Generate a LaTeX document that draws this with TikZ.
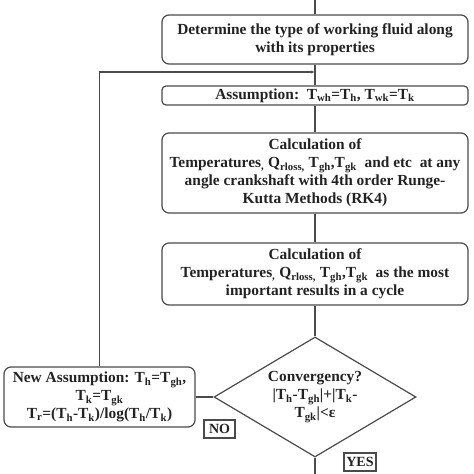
\documentclass[tikz,border=0pt]{standalone}
\usepackage{fontspec}
\setmainfont{Liberation Serif}
\usepackage{tikz}
\usetikzlibrary{positioning}
\usetikzlibrary{arrows.meta}
\usetikzlibrary{shapes.geometric}
\definecolor{linegray}{HTML}{4A4A4A}
\definecolor{textgray}{HTML}{222222}

\begin{document}
\begin{tikzpicture}[x=1pt,y=-1pt,
		every node/.style={font=\bfseries\fontsize{15.4}{18}\selectfont,text=textgray,align=center},
		procbox/.style={draw=linegray,line width=1.2pt,rounded corners=7pt,minimum width=306pt,inner sep=0pt},
		decision/.style={draw=linegray,line width=1.2pt,diamond,aspect=1.68,minimum width=202pt,minimum height=120pt,inner sep=0pt},
		tagbox/.style={draw=linegray,line width=1.2pt,inner sep=0pt,font=\bfseries\fontsize{14}{15}\selectfont},
		link/.style={draw=linegray,line width=1.2pt}]
		\useasboundingbox (0,0) rectangle (474,474);
		
		\coordinate (start) at (315,0);
		\coordinate (finish) at (315,474);
		\coordinate (join) at (315,72);
		
		\node[procbox,minimum height=49pt] (fluid) at (315,39.5)
			{Determine the type of working fluid along\\with its properties};
		\node[procbox,minimum height=19pt,rounded corners=4pt] (assume) at (315,95.5)
			{Assumption:\ \ T\textsubscript{wh}=T\textsubscript{h}, T\textsubscript{wk}=T\textsubscript{k}};
		\node[procbox,minimum height=80pt] (rk) at (315,173)
			{Calculation of\\Temperatures\textsubscript{,} Q\textsubscript{rloss,} T\textsubscript{gh},T\textsubscript{gk}\ \ and etc\ \ at any\\angle crankshaft with 4th order Runge-\\Kutta Methods (RK4)};
		\node[procbox,minimum height=62pt] (cycle) at (315,274)
			{Calculation of\\Temperatures\textsubscript{,} Q\textsubscript{rloss,} T\textsubscript{gh},T\textsubscript{gk}\ \ as the most\\important results in a cycle};
		\node[decision] (conv) at (315,397)
			{Convergency?\\|T\textsubscript{h}-T\textsubscript{gh}|+|T\textsubscript{k}-\\T\textsubscript{gk}|<ε};
		\node[procbox,minimum width=191pt,minimum height=60pt] (newass) at (99.5,397)
			{New Assumption: T\textsubscript{h}=T\textsubscript{gh},\\T\textsubscript{k}=T\textsubscript{gk}\\T\textsubscript{r}=(T\textsubscript{h}-T\textsubscript{k})/log(T\textsubscript{h}/T\textsubscript{k})};
		\node[tagbox,minimum width=31pt,minimum height=18pt] (no) at (219.5,429) {NO};
		\node[tagbox,minimum width=32pt,minimum height=18pt] (yes) at (360,462) {YES};
		
		\draw[link] (start) -- (fluid);
		\draw[link] (fluid) -- (assume);
		\draw[link] (assume) -- (rk);
		\draw[link] (rk) -- (cycle);
		\draw[link] (cycle) -- (conv);
		\draw[link] (conv) -- (finish);
		\draw[link] (newass) -- (conv);
		\draw[link,-{Latex[length=4pt,width=3pt]}] (newass.north) |- (join);
	\end{tikzpicture}
\end{document}
